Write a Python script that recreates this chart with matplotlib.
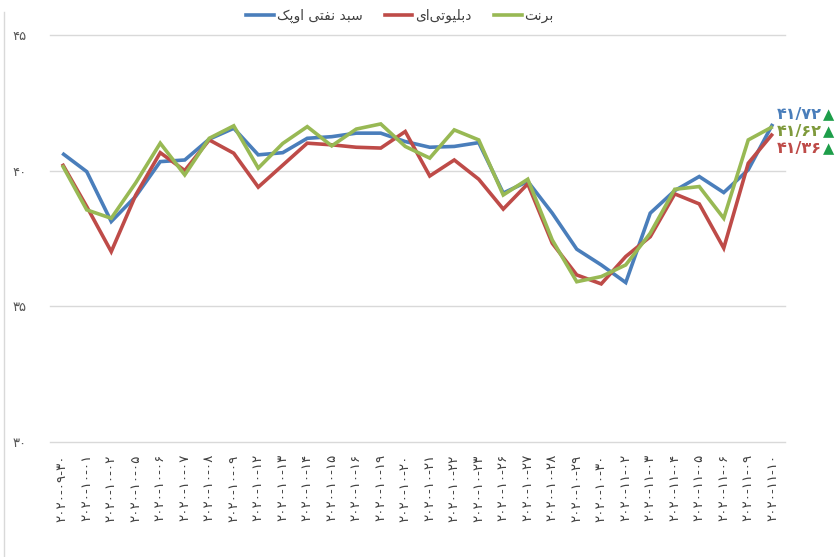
import unicodedata
import matplotlib
matplotlib.use("Agg")
import matplotlib.pyplot as plt
from matplotlib.lines import Line2D

# ---------------- data ----------------
dates = ["2020-09-30", "2020-10-01", "2020-10-02", "2020-10-05", "2020-10-06",
         "2020-10-07", "2020-10-08", "2020-10-09", "2020-10-12", "2020-10-13",
         "2020-10-14", "2020-10-15", "2020-10-16", "2020-10-19", "2020-10-20",
         "2020-10-21", "2020-10-22", "2020-10-23", "2020-10-26", "2020-10-27",
         "2020-10-28", "2020-10-29", "2020-10-30", "2020-11-02", "2020-11-03",
         "2020-11-04", "2020-11-05", "2020-11-06", "2020-11-09", "2020-11-10"]

opec = [40.64, 39.96, 38.12, 39.05, 40.33, 40.39, 41.16, 41.56, 40.58, 40.66,
        41.19, 41.25, 41.38, 41.38, 41.07, 40.86, 40.89, 41.03, 39.17, 39.60,
        38.43, 37.10, 36.52, 35.87, 38.43, 39.26, 39.78, 39.19, 40.03, 41.72]
wti = [40.25, 38.67, 37.01, 39.10, 40.66, 40.00, 41.13, 40.64, 39.39, 40.20,
       41.01, 40.95, 40.86, 40.83, 41.44, 39.80, 40.39, 39.68, 38.58, 39.51,
       37.32, 36.15, 35.82, 36.83, 37.56, 39.14, 38.77, 37.14, 40.27, 41.36]
brent = [40.20, 38.55, 38.24, 39.55, 41.01, 39.84, 41.19, 41.65, 40.09, 41.00,
         41.62, 40.91, 41.53, 41.72, 40.89, 40.46, 41.50, 41.13, 39.10, 39.68,
         37.44, 35.90, 36.09, 36.52, 37.69, 39.31, 39.41, 38.24, 41.13, 41.62]

series_names = ["سبد نفتی اوپک", "دبلیوتی‌ای", "برنت"]
last_labels = ["41.72", "41.62", "41.36"]
yticks = [30, 35, 40, 45]

# ---------------- helpers ----------------
PERSIAN_DIGITS = str.maketrans("0123456789.", "۰۱۲۳۴۵۶۷۸۹/")


def fa_digits(s):
    return s.translate(PERSIAN_DIGITS)


# build presentation-form table from unicodedata
FORMS = {}
for cp in list(range(0xFB50, 0xFE00)) + list(range(0xFE70, 0xFF00)):
    d = unicodedata.decomposition(chr(cp))
    if not d.startswith("<"):
        continue
    tag, *rest = d.split()
    if len(rest) != 1:
        continue
    base = chr(int(rest[0], 16))
    tag = tag.strip("<>")
    if tag in ("isolated", "final", "initial", "medial"):
        FORMS.setdefault(base, {}).setdefault(tag, chr(cp))
# Farsi yeh: use arabic yeh shapes for medial/initial, alef maksura for end
FORMS["\u06cc"] = {"isolated": "\uFEEF", "final": "\uFEF0",
                   "initial": "\uFEF3", "medial": "\uFEF4"}


def shape(text):
    chars = list(text)
    out = []
    for i, c in enumerate(chars):
        if c not in FORMS:
            out.append(c)
            continue
        prev = chars[i - 1] if i > 0 else None
        nxt = chars[i + 1] if i + 1 < len(chars) else None
        jp = prev in FORMS and "initial" in FORMS[prev]
        jn = "initial" in FORMS[c] and nxt in FORMS
        f = FORMS[c]
        if jp and jn:
            g = f.get("medial", f.get("final"))
        elif jp:
            g = f.get("final", f.get("isolated"))
        elif jn:
            g = f.get("initial", f.get("isolated"))
        else:
            g = f.get("isolated", c)
        out.append(g)
    out = [ch for ch in out if ch != "\u200c"]
    return "".join(reversed(out))


# ---------------- figure ----------------
plt.rcParams["font.family"] = ["DejaVu Sans"]
fig = plt.figure(figsize=(8.35, 5.57), dpi=100)
ax = fig.add_axes([50 / 835, 1 - 441.7 / 557, 735 / 835, (441.7 - 35) / 557])

colors = ["#4a7ebb", "#be4b48", "#98b954"]
label_colors = ["#4a7ebb", "#be4b48", "#7f9a3c"]
x = list(range(len(dates)))
for vals, col in zip([opec, wti, brent], colors):
    ax.plot(x, vals, color=col, lw=2.6, solid_joinstyle="miter",
            solid_capstyle="butt", zorder=3)

ax.set_xlim(-0.5, len(dates) - 0.5)
ax.set_ylim(30, 45)
ax.set_yticks(yticks)
ax.set_yticklabels([fa_digits(str(v)) for v in yticks])
ax.set_xticks(x)
ax.set_xticklabels([fa_digits(d) for d in dates], rotation=90, va="top",
                   ha="center")
ax.tick_params(axis="y", length=0, pad=17, labelsize=9.5, labelcolor="#595959")
ax.tick_params(axis="x", length=0, pad=9, labelsize=9.6, labelcolor="#404040")
for s in ax.spines.values():
    s.set_visible(False)
ax.grid(False)
for v in yticks:
    ax.axhline(v, color="#d9d9d9", lw=1, clip_on=False, zorder=1)

# end-point labels with triangles
label_y_px = [115, 132, 149]
order_cols = [label_colors[0], label_colors[2], label_colors[1]]
for lab, ypx, col in zip(last_labels, label_y_px, order_cols):
    yf = 1 - ypx / 557
    fig.text(822 / 835, yf, fa_digits(lab), color=col, fontsize=11.5,
             fontweight="bold", ha="right", va="center")
    fig.text(823 / 835, yf, "▲", color="#1e9e4a", fontsize=10.5,
             ha="left", va="center")

# legend
handles = [Line2D([0], [0], color=c, lw=2.6) for c in colors]
leg = fig.legend(handles, [shape(n) for n in series_names], loc="center",
                 bbox_to_anchor=(400 / 835, 1 - 16 / 557), ncol=3,
                 frameon=False, fontsize=10, handlelength=2.0,
                 handletextpad=0.2, columnspacing=1.6)
for t in leg.get_texts():
    t.set_color("#404040")

# faint chart frame line on left
fig.add_artist(Line2D([4 / 835, 4 / 835], [0, 1 - 12 / 557],
                      color="#d9d9d9", lw=1, transform=fig.transFigure))

fig.savefig("out.png", dpi=100)
